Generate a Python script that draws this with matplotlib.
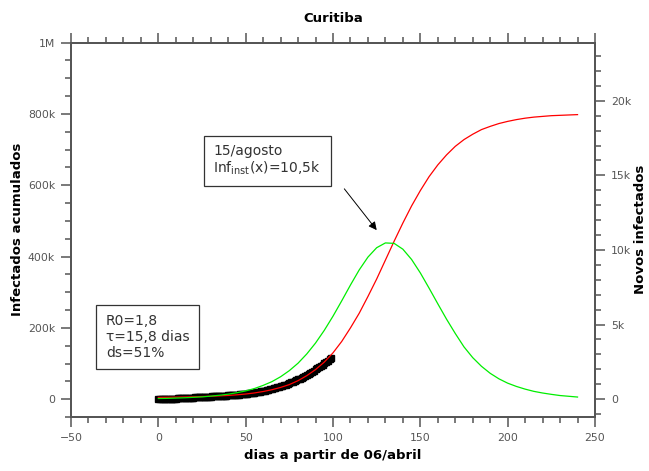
import matplotlib
matplotlib.use("Agg")
import matplotlib.pyplot as plt
from matplotlib.ticker import MultipleLocator, FuncFormatter

# dias do modelo (passo de 5 dias)
dias_modelo = list(range(0, 245, 5))

# infectados acumulados do modelo (milhares)
acumulados_k = [5, 5.3, 5.7, 6.2, 6.8, 7.5, 8.3, 9.3, 10.5, 12.3,
                14.5, 17.5, 21.5, 26.5, 33, 41, 52, 66, 83, 104,
                130, 162, 200, 241, 288, 337, 390, 443, 494, 542,
                585, 624, 657, 685, 709, 728, 743, 756, 765, 773,
                779, 784, 788, 791, 793, 795, 796, 797, 798]

# novos infectados do modelo (milhares)
novos_k = [0.04, 0.05, 0.07, 0.09, 0.12, 0.15, 0.20, 0.26, 0.33, 0.43,
           0.55, 0.71, 0.92, 1.17, 1.50, 1.91, 2.41, 3.03, 3.76, 4.61,
           5.56, 6.59, 7.65, 8.66, 9.52, 10.15, 10.47, 10.44, 10.05, 9.36,
           8.46, 7.44, 6.39, 5.36, 4.40, 3.50, 2.78, 2.20, 1.73, 1.36,
           1.07, 0.85, 0.67, 0.52, 0.41, 0.32, 0.24, 0.19, 0.14]

# dados observados (acumulados, milhares), um por dia
dias_dados = list(range(0, 100))
dados_k = [0.3, 0.4, 0.5, 0.6, 0.8, 1.0, 1.1, 1.3, 1.5, 1.7,
           1.9, 2.1, 2.3, 2.6, 2.8, 3.1, 3.3, 3.6, 3.9, 4.2,
           4.5, 4.8, 5.1, 5.4, 5.7, 6.0, 6.3, 6.6, 6.9, 7.2,
           7.5, 7.8, 8.1, 8.4, 8.7, 9.0, 9.3, 9.6, 9.9, 10.2,
           10.5, 10.8, 11.1, 11.5, 11.9, 12.3, 12.7, 13.2, 13.7, 14.2,
           14.8, 15.4, 16.0, 16.7, 17.4, 18.2, 19.0, 19.9, 20.8, 21.8,
           22.8, 23.9, 25.0, 26.2, 27.4, 28.7, 30.0, 31.4, 32.9, 34.4,
           36.0, 37.6, 39.3, 41.1, 43.0, 44.9, 46.9, 49.0, 51.1, 53.3,
           55.6, 58.0, 60.5, 63.0, 65.6, 68.3, 71.1, 74.0, 77.0, 80.1,
           83.3, 86.6, 90.0, 93.5, 97.1, 100.8, 104.6, 108.5, 112.5, 116.6]

acumulados = [v * 1000 for v in acumulados_k]
novos = [v * 1000 for v in novos_k]
dados = [v * 1000 for v in dados_k]

cinza = "#555555"

fig = plt.figure(figsize=(6.49, 4.71), dpi=100)
ax = fig.add_axes([0.1094, 0.1146, 0.8074, 0.795])
ax2 = ax.twinx()

ax.plot(dias_dados, dados, linestyle="none", marker="s", markersize=4,
        color="black", zorder=2)
ax.plot(dias_modelo, acumulados, color="#ff0000", linewidth=0.9, zorder=3)
ax2.plot(dias_modelo, novos, color="#00ee00", linewidth=0.9)

ax.set_xlim(-50, 250)
ax.set_ylim(-50000, 1000000)
ax2.set_ylim(-1200, 23900)

ax.xaxis.set_major_locator(MultipleLocator(50))
ax.xaxis.set_minor_locator(MultipleLocator(10))
ax.yaxis.set_major_locator(MultipleLocator(200000))
ax.yaxis.set_minor_locator(MultipleLocator(50000))
ax2.yaxis.set_major_locator(MultipleLocator(5000))
ax2.yaxis.set_minor_locator(MultipleLocator(1000))


def fmt_k(v, pos):
    if v == 0:
        return "0"
    if abs(v) >= 1000000:
        return "%gM" % (v / 1000000)
    return "%gk" % (v / 1000)


ax.yaxis.set_major_formatter(FuncFormatter(fmt_k))
ax2.yaxis.set_major_formatter(FuncFormatter(fmt_k))

for a in (ax, ax2):
    for s in a.spines.values():
        s.set_color(cinza)
        s.set_linewidth(1.3)
    a.tick_params(which="major", direction="out", length=7.5, width=1.1,
                  color=cinza, labelcolor=cinza, labelsize=7.8, pad=4)
    a.tick_params(which="minor", direction="out", length=4.2, width=1.1,
                  color=cinza)
ax.tick_params(which="both", top=True, labeltop=False)

ax.set_xlabel("dias a partir de 06/abril", fontsize=9.5, fontweight="bold")
ax.set_ylabel("Infectados acumulados", fontsize=9.5, fontweight="bold",
              labelpad=3)
ax2.set_ylabel("Novos infectados", fontsize=9.5, fontweight="bold",
               rotation=90, labelpad=2)
ax.set_title("Curitiba", fontsize=9.5, fontweight="bold", pad=15)

ax.text(-30, 238000, "R0=1,8\nτ=15,8 dias\nds=51%", fontsize=10,
        color="#333333", va="top", ha="left", linespacing=1.15,
        bbox=dict(boxstyle="square,pad=0.7", fc="white", ec="#333333",
                  lw=0.9), zorder=5)
ax.text(31.5, 716000, "15/agosto\nInf$_{\\mathrm{inst}}$(x)=10,5k", fontsize=10,
        color="#333333", va="top", ha="left", linespacing=1.1,
        bbox=dict(boxstyle="square,pad=0.7", fc="white", ec="#333333",
                  lw=0.9), zorder=5)
ax.annotate("", xy=(126, 468000), xytext=(105.5, 596000),
            arrowprops=dict(arrowstyle="-|>", color="black", lw=0.7,
                            mutation_scale=12))

fig.savefig("out.png", dpi=100)
